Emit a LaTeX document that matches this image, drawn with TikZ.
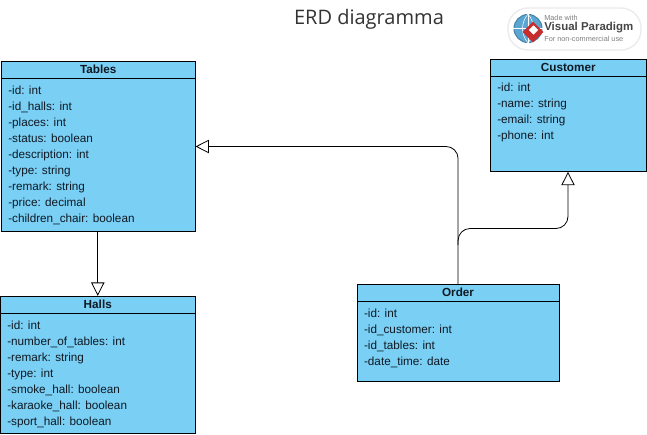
\documentclass[tikz,border=0pt]{standalone}
\usepackage{fontspec}
\setmainfont{Liberation Sans}
\newfontfamily\titlefont{Open Sans}
\usetikzlibrary{arrows.meta,positioning}
\definecolor{classblue}{RGB}{122,207,245}
\definecolor{inkblack}{RGB}{15,25,35}
\definecolor{globeblue}{RGB}{90,165,210}
\definecolor{logored}{RGB}{200,45,45}
\definecolor{logogray}{RGB}{70,70,70}
\tikzset{
    classhead/.style={draw, fill=classblue, anchor=north west, inner sep=0pt, font=\fontsize{8.8}{10}\selectfont\bfseries, text=inkblack},
    classbody/.style={draw, fill=classblue, anchor=north west, inner sep=0pt},
    attrlist/.style={anchor=north west, align=left, inner sep=0pt, font=\fontsize{8.8}{12}\selectfont, text=inkblack},
    generalize/.style={draw, -{Triangle[fill=white,length=10pt,width=10pt]}, rounded corners=9pt, semithick}}

\begin{document}
\begin{tikzpicture}[x=0.75pt,y=-0.75pt]
\useasboundingbox[fill=white] (0,0) rectangle (647,435);
\node[font=\titlefont\fontsize{15}{18}\selectfont, text=black!80] (title) at (369,19) {ERD diagramma};

% logo
\draw[white!92!black, fill=white, line width=1pt, rounded corners=15pt] (508,8) rectangle (641,50);
\node[circle, draw=globeblue!80!black, fill=globeblue, line width=0.8pt, minimum size=21pt, inner sep=0pt] (globe) at (528,28.5) {};
\draw[white, line width=0.4pt] (globe.west) -- (globe.east) (globe.north) -- (globe.south);
\draw[white, line width=0.4pt] (globe.north) to[bend right=40] (globe.south);
\draw[white, line width=0.4pt] (globe.north) to[bend left=40] (globe.south);
\draw[logored, fill=logored, rotate around={45:(533,32)}] (526,25) rectangle (540,39);
\draw[white, fill=white, rotate around={45:(533.5,30)}] (530.5,27) rectangle (536.5,33);
\node[anchor=west, inner sep=0pt, font=\fontsize{5.5}{6}\selectfont, text=gray] (made) at (544,18) {Made with};
\node[anchor=west, inner sep=0pt, font=\fontsize{8.6}{10}\selectfont\bfseries, text=logogray] (vp) at (544,28) {Visual Paradigm};
\node[anchor=west, inner sep=0pt, font=\fontsize{5.5}{6}\selectfont, text=gray] (use) at (544,38.5) {For non-commercial use};

% tables
\node[classhead, minimum width=145.5pt, minimum height=12.75pt] (tableshead) at (1,60.8) {Tables};
\node[classbody, minimum width=145.5pt, minimum height=114.75pt] (tablesbody) at (tableshead.south west) {};
\node[attrlist, below right=5.5pt and 5.25pt of tablesbody.north west] (tablestext) {-id: int\\-id\_halls: int\\-places: int\\-status: boolean\\-description: int\\-type: string\\-remark: string\\-price: decimal\\-children\_chair: boolean};

% halls
\node[classhead, minimum width=146.25pt, minimum height=12.75pt] (hallshead) at (0,295.8) {Halls};
\node[classbody, minimum width=146.25pt, minimum height=90pt] (hallsbody) at (hallshead.south west) {};
\node[attrlist, below right=5.5pt and 5.25pt of hallsbody.north west] (hallstext) {-id: int\\-number\_of\_tables: int\\-remark: string\\-type: int\\-smoke\_hall: boolean\\-karaoke\_hall: boolean\\-sport\_hall: boolean};

% customer
\node[classhead, minimum width=117pt, minimum height=12.75pt] (customerhead) at (490,58.8) {Customer};
\node[classbody, minimum width=117pt, minimum height=71.25pt] (customerbody) at (customerhead.south west) {};
\node[attrlist, below right=4.75pt and 5.25pt of customerbody.north west] (customertext) {-id: int\\-name: string\\-email: string\\-phone: int};

% order
\node[classhead, minimum width=151.5pt, minimum height=12.75pt] (orderhead) at (356.8,283.8) {Order};
\node[classbody, minimum width=151.5pt, minimum height=60pt] (orderbody) at (orderhead.south west) {};
\node[attrlist, below right=5.5pt and 5.25pt of orderbody.north west] (ordertext) {-id: int\\-id\_customer: int\\-id\_tables: int\\-date\_time: date};

% connectors
\coordinate (tablesport) at (tablesbody.east |- 0,146.5);
\coordinate (customerport) at (568,0 |- customerbody.south);
\draw[generalize] (hallshead.north |- tablesbody.south) -- (hallshead.north);
\draw[generalize] (orderhead.north) -- (orderhead.north |- tablesport) -- (tablesport);
\draw[generalize] (orderhead.north |- 0,245) -- (orderhead.north |- 0,228.5) -- (customerport |- 0,228.5) -- (customerport);
\end{tikzpicture}
\end{document}
